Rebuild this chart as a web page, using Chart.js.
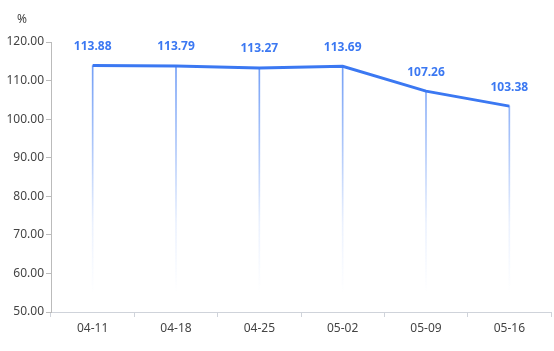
<!DOCTYPE html>
<html>
<head>
<meta charset="utf-8">
<script src="https://cdn.jsdelivr.net/npm/chart.js@4/dist/chart.umd.min.js"></script>
<style>
html,body{margin:0;padding:0;background:#fff;}
#wrap{width:554px;height:351px;}
</style>
</head>
<body>
<div id="wrap"><canvas id="c" width="554" height="351"></canvas></div>
<script>
const categories = ['04-11','04-18','04-25','05-02','05-09','05-16'];
const values = [113.88, 113.79, 113.27, 113.69, 107.26, 103.38];
const yTicks = [50, 60, 70, 80, 90, 100, 110, 120];
const unitLabel = '%';

const FONT = "'Noto Sans', 'Open Sans', sans-serif";
const BLUE = '#3b78f2';

const labelPlugin = {
  id: 'labels',
  afterDatasetsDraw(chart) {
    const ctx = chart.ctx;
    const meta = chart.getDatasetMeta(1);
    ctx.save();
    ctx.font = 'bold 12px ' + FONT;
    ctx.fillStyle = BLUE;
    ctx.textAlign = 'center';
    ctx.textBaseline = 'middle';
    meta.data.forEach((pt, i) => {
      ctx.fillText(values[i].toFixed(2), pt.x, pt.y - 19);
    });
    ctx.font = '12px ' + FONT;
    ctx.fillStyle = '#444';
    ctx.textAlign = 'left';
    ctx.fillText(unitLabel, 17, 20);
    ctx.restore();
  }
};

new Chart(document.getElementById('c'), {
  data: {
    labels: categories,
    datasets: [
      {
        type: 'bar',
        data: values,
        barThickness: 1,
        backgroundColor(context) {
          const area = context.chart.chartArea;
          if (!area) return 'rgba(59,120,242,0.8)';
          const g = context.chart.ctx.createLinearGradient(0, area.top, 0, area.bottom);
          g.addColorStop(0, 'rgba(59,120,242,0.8)');
          g.addColorStop(0.4, 'rgba(59,120,242,0.4)');
          g.addColorStop(0.67, 'rgba(59,120,242,0.1)');
          g.addColorStop(0.93, 'rgba(59,120,242,0.0)');
          g.addColorStop(1, 'rgba(59,120,242,0.0)');
          return g;
        },
        borderWidth: 0,
        order: 2
      },
      {
        type: 'line',
        data: values,
        borderColor: BLUE,
        borderWidth: 3,
        pointRadius: 0,
        tension: 0,
        fill: false,
        order: 1
      }
    ]
  },
  options: {
    responsive: false,
    animation: false,
    devicePixelRatio: 1,
    layout: { padding: { top: 42, right: 3, left: 0, bottom: 0 } },
    plugins: { legend: { display: false }, tooltip: { enabled: false } },
    scales: {
      x: {
        type: 'category',
        offset: true,
        grid: { display: true, drawOnChartArea: false, offset: true, tickLength: 5, color: '#cfd3da' },
        border: { color: '#cfd3da' },
        ticks: { color: '#444', font: { family: FONT, size: 12 }, padding: 4 },
        afterFit(scale) { scale.height = 39; }
      },
      y: {
        min: 50, max: 120,
        afterBuildTicks(scale) { scale.ticks = yTicks.map(v => ({ value: v })); },
        grid: { display: true, drawOnChartArea: false, tickLength: 5, color: '#bbbbbb' },
        border: { color: '#bbbbbb' },
        ticks: {
          color: '#444', font: { family: FONT, size: 12 }, padding: 2,
          callback: v => Number(v).toFixed(2)
        },
        afterFit(scale) { scale.width = 51; }
      }
    }
  },
  plugins: [labelPlugin]
});
</script>
</body>
</html>
